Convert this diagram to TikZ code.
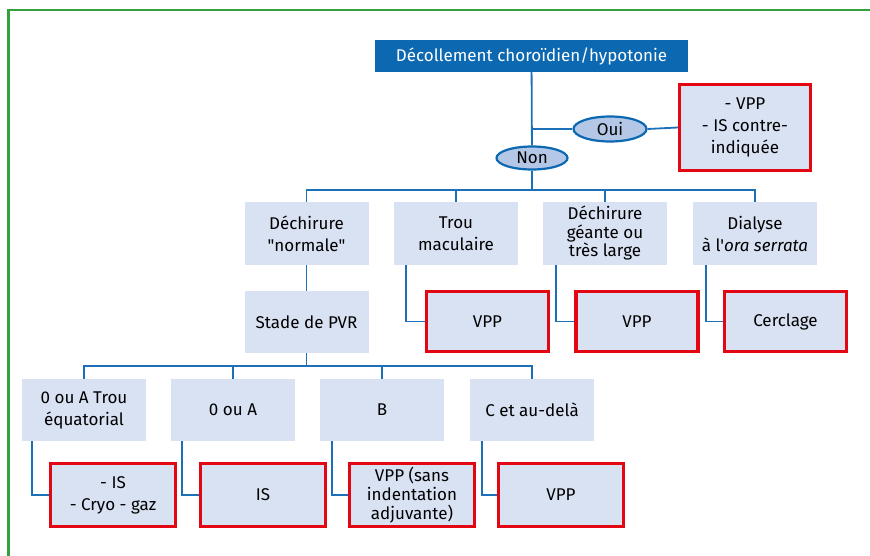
\documentclass[tikz,border=0pt]{standalone}
\usepackage{fontspec}
\setmainfont{Fira Sans}[Ligatures=TeXOff]
\usepackage{tikz}
\usetikzlibrary{shapes.geometric}
\usetikzlibrary{positioning}
\definecolor{dblue}{HTML}{0B68B1}
\definecolor{lblue}{HTML}{D9E2F3}
\definecolor{oblue}{HTML}{B4C7E7}
\definecolor{lnblue}{HTML}{1C70B8}
\definecolor{mred}{HTML}{E30613}
\definecolor{mgreen}{HTML}{33A23C}
\tikzset{
  lbox/.style = {fill=lblue, minimum width=124, minimum height=62, inner sep=0, align=center},
  rbox/.style = {draw=mred, line width=3.2, fill=lblue, minimum width=122, minimum height=60, inner sep=0, align=center},
  oval/.style = {ellipse, draw=dblue, line width=2.2, fill=oblue, inner sep=0},
  link/.style = {draw=lnblue, line width=1.8}
}

\begin{document}
\begin{tikzpicture}[x=1pt, y=-1pt, font=\fontsize{17}{22}\selectfont]
    \useasboundingbox (0,0) rectangle (870,556);
    \draw [mgreen, line width=2.5] (870,10) -- (8.5,10) -- (8.5,556);

    \node [fill=dblue, text=white, minimum width=313, minimum height=32, inner sep=0] (top) at (531.5,56) {Décollement choroïdien/hypotonie};
    \node [oval, minimum width=73, minimum height=25] (oui) at (610,129) {Oui};
    \node [oval, minimum width=71, minimum height=23] (non) at (532,158) {Non};
    \node [rbox, minimum width=131, minimum height=86] (rtop) at (745,127.5) {- VPP\\- IS contre-\\indiquée};

    \node [lbox] (dech) at (306.5,233.5) {Déchirure\\"normale"};
    \node [lbox] (trou) at (456,233.5) {Trou\\maculaire};
    \node [lbox, font=\fontsize{17}{18.5}\selectfont] (geante) at (605,233.5) {Déchirure\\géante ou\\très large};
    \node [lbox] (dial) at (755,233.5) {Dialyse\\à l'\textit{ora serrata}};

    \node [lbox] (stade) at (306.5,322) {Stade de PVR};
    \node [rbox] (vpp1) at (487.5,321.5) {VPP};
    \node [rbox] (vpp2) at (637,321.5) {VPP};
    \node [rbox] (cercl) at (785.5,321.5) {Cerclage};

    \node [lbox] (oa1) at (84,410) {0 ou A Trou\\équatorial};
    \node [lbox] (oa2) at (233,410) {0 ou A};
    \node [lbox] (stb) at (382,410) {B};
    \node [lbox] (stc) at (532,410) {C et au-delà};

    \node [rbox, minimum width=125, minimum height=63] (is1) at (113,495) {- IS\\- Cryo - gaz};
    \node [rbox, minimum width=125, minimum height=63] (is2) at (263,495) {IS};
    \node [rbox, minimum width=125, minimum height=63, font=\fontsize{17}{19}\selectfont] (vpp3) at (412,495) {VPP (sans\\indentation\\adjuvante)};
    \node [rbox, minimum width=125, minimum height=63] (vpp4) at (561,495) {VPP};

    \coordinate (bus) at (532,190);
    \coordinate (bus2) at (306.5,366);

    \draw [link] (top) -- (non);
    \draw [link] (top.south |- oui.west) -- (oui.west);
    \draw [link] (oui.east) -- (rtop.west);
    \draw [link] (non) -- (bus);
    \draw [link] (dech.north) |- (bus) -| (dial.north);
    \draw [link] (bus -| trou.north) -- (trou.north);
    \draw [link] (bus -| geante.north) -- (geante.north);

    \draw [link] (dech) -- (stade);
    \draw [link] ([xshift=-50]trou.south) |- (vpp1.west);
    \draw [link] ([xshift=-49]geante.south) |- (vpp2.west);
    \draw [link] ([xshift=-49]dial.south) |- (cercl.west);

    \draw [link] (stade) -- (bus2);
    \draw [link] (oa1.north) |- (bus2) -| (stc.north);
    \draw [link] (bus2 -| oa2.north) -- (oa2.north);
    \draw [link] (bus2 -| stb.north) -- (stb.north);

    \draw [link] ([xshift=-52]oa1.south) |- (is1.west);
    \draw [link] ([xshift=-51]oa2.south) |- (is2.west);
    \draw [link] ([xshift=-50]stb.south) |- (vpp3.west);
    \draw [link] ([xshift=-50]stc.south) |- (vpp4.west);
  \end{tikzpicture}
\end{document}
